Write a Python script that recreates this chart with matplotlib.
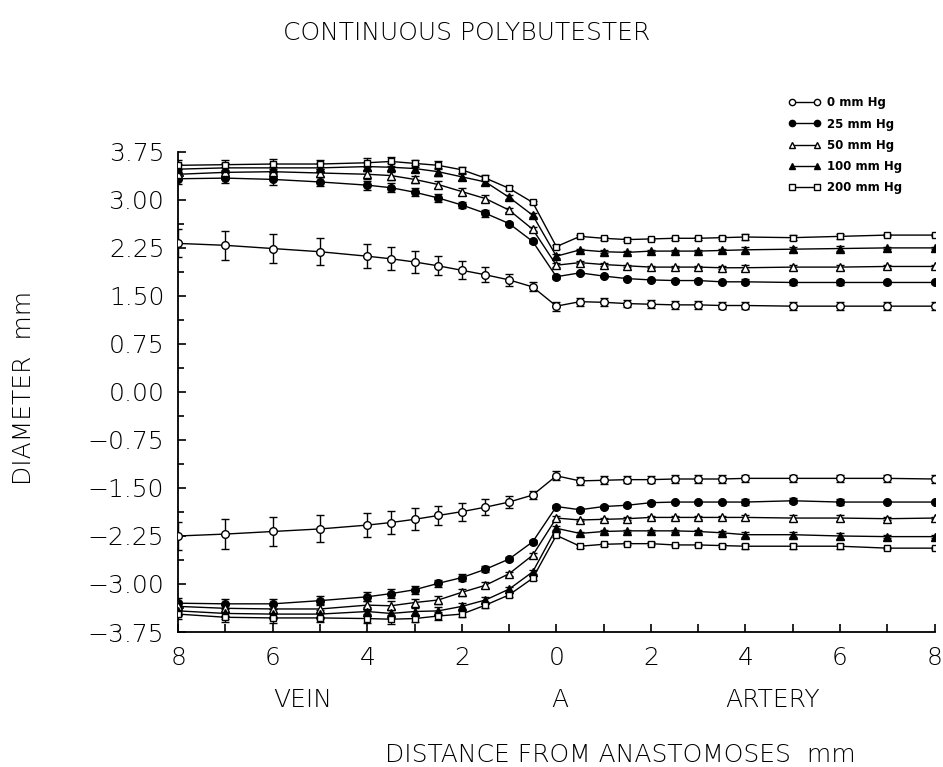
"""
Continuous polybutester: vessel diameter vs. distance from anastomosis
"""

import numpy as np
import matplotlib
matplotlib.use('Agg')
import matplotlib.pyplot as plt
from matplotlib.lines import Line2D

plt.rcParams['font.family'] = ['DejaVu Sans']

# distance: vein side negative (8 .. 0), artery side positive (0.5 .. 8)
DIST = [-8, -7, -6, -5, -4, -3.5, -3, -2.5, -2, -1.5, -1, -0.5, 0,
        0.5, 1, 1.5, 2, 2.5, 3, 3.5, 4, 5, 6, 7, 8]

PRESSURES = ['0 mm Hg', '25 mm Hg', '50 mm Hg', '100 mm Hg', '200 mm Hg']

# upper wall (positive diameter half)
UP_0 = [2.32, 2.29, 2.24, 2.19, 2.12, 2.08, 2.03, 1.97, 1.90, 1.83, 1.75, 1.64, 1.34,
        1.41, 1.40, 1.38, 1.37, 1.36, 1.36, 1.35, 1.35, 1.34, 1.34, 1.34, 1.34]
UP_25 = [3.33, 3.34, 3.32, 3.28, 3.23, 3.19, 3.12, 3.03, 2.92, 2.79, 2.63, 2.35, 1.80,
         1.86, 1.81, 1.77, 1.75, 1.74, 1.74, 1.72, 1.72, 1.71, 1.71, 1.71, 1.71]
UP_50 = [3.40, 3.43, 3.44, 3.42, 3.40, 3.38, 3.32, 3.24, 3.13, 3.02, 2.84, 2.54, 1.98,
         2.02, 1.99, 1.97, 1.95, 1.95, 1.95, 1.94, 1.94, 1.95, 1.95, 1.96, 1.96]
UP_100 = [3.48, 3.50, 3.50, 3.50, 3.52, 3.51, 3.49, 3.44, 3.36, 3.28, 3.04, 2.76, 2.12,
          2.22, 2.19, 2.18, 2.20, 2.20, 2.20, 2.21, 2.22, 2.23, 2.24, 2.25, 2.25]
UP_200 = [3.54, 3.55, 3.56, 3.56, 3.58, 3.60, 3.57, 3.54, 3.47, 3.34, 3.18, 2.96, 2.27,
          2.43, 2.40, 2.38, 2.39, 2.40, 2.40, 2.41, 2.42, 2.41, 2.43, 2.45, 2.45]

# lower wall (negative diameter half)
LO_0 = [-2.25, -2.22, -2.18, -2.14, -2.08, -2.04, -1.99, -1.93, -1.87, -1.80, -1.72, -1.61, -1.31,
        -1.39, -1.38, -1.37, -1.37, -1.36, -1.36, -1.36, -1.35, -1.35, -1.35, -1.35, -1.36]
LO_25 = [-3.30, -3.31, -3.31, -3.26, -3.20, -3.15, -3.09, -2.99, -2.90, -2.77, -2.61, -2.34, -1.79,
         -1.84, -1.79, -1.77, -1.73, -1.72, -1.72, -1.72, -1.72, -1.70, -1.72, -1.72, -1.72]
LO_50 = [-3.35, -3.38, -3.39, -3.39, -3.33, -3.34, -3.29, -3.25, -3.13, -3.02, -2.84, -2.55, -1.97,
         -2.00, -1.99, -1.98, -1.96, -1.96, -1.96, -1.96, -1.96, -1.97, -1.97, -1.98, -1.97]
LO_100 = [-3.42, -3.46, -3.47, -3.47, -3.43, -3.46, -3.43, -3.42, -3.35, -3.25, -3.08, -2.81, -2.13,
          -2.21, -2.18, -2.17, -2.17, -2.17, -2.18, -2.20, -2.23, -2.23, -2.25, -2.26, -2.26]
LO_200 = [-3.47, -3.52, -3.53, -3.53, -3.54, -3.55, -3.54, -3.50, -3.47, -3.33, -3.17, -2.91, -2.24,
          -2.41, -2.38, -2.37, -2.37, -2.39, -2.39, -2.40, -2.41, -2.41, -2.41, -2.44, -2.44]

# standard errors (same for both walls)
ERR_0 = [0.22, 0.23, 0.22, 0.21, 0.19, 0.18, 0.17, 0.15, 0.14, 0.12, 0.09, 0.07, 0.07,
         0.06, 0.06, 0.06, 0.06, 0.06, 0.06, 0.06, 0.06, 0.06, 0.06, 0.06, 0.06]
ERR_HI = [0.08, 0.08, 0.08, 0.07, 0.07, 0.07, 0.06, 0.06, 0.05, 0.05, 0.03, 0.03, 0.03,
          0.02, 0.02, 0.02, 0.02, 0.02, 0.02, 0.02, 0.04, 0.04, 0.04, 0.02, 0.02]

Y_TICKS = [-3.75, -3.00, -2.25, -1.50, -0.75, 0.00, 0.75, 1.50, 2.25, 3.00, 3.75]
X_TICKS = [-8, -7, -6, -5, -4, -3, -2, -1, 0, 1, 2, 3, 4, 5, 6, 7, 8]

STYLES = [('o', 'white'), ('o', 'black'), ('^', 'white'), ('^', 'black'), ('s', 'white')]

upper = [UP_0, UP_25, UP_50, UP_100, UP_200]
lower = [LO_0, LO_25, LO_50, LO_100, LO_200]
errs = [ERR_0, ERR_HI, ERR_HI, ERR_HI, ERR_HI]

fig = plt.figure(figsize=(9.43, 7.67), dpi=100)
ax = fig.add_axes([0.189, 0.176, 0.802, 0.626])

for (mk, fc), up, lo, e in zip(STYLES, upper, lower, errs):
    ms = 5.5 if mk != 's' else 5
    for y in (up, lo):
        ax.errorbar(DIST, y, yerr=e, fmt=mk + '-', color='black', mfc=fc, mec='black',
                    ms=ms, mew=1, lw=1, elinewidth=1, capsize=3, capthick=1, zorder=3)

ax.set_xlim(-8, 8)
ax.set_ylim(-3.75, 3.75)
ax.spines['top'].set_visible(False)
ax.spines['right'].set_visible(False)
ax.spines['left'].set_linewidth(1.3)
ax.spines['bottom'].set_linewidth(1.3)

ax.set_xticks(X_TICKS)
ax.set_xticklabels([str(abs(v)) if v % 2 == 0 else '' for v in X_TICKS])
ax.set_yticks(Y_TICKS)
ax.set_yticklabels([f'{v:.2f}'.replace('-', '\u2212') for v in Y_TICKS])
ax.set_yticks(np.arange(-3.75, 3.76, 0.375), minor=True)
ax.tick_params(axis='both', which='major', direction='in', length=6, width=1.2,
               labelsize=18, pad=10)
ax.tick_params(axis='y', which='minor', direction='in', length=4, width=1.2)
for lab in ax.get_xticklabels() + ax.get_yticklabels():
    lab.set_fontweight('light')

txt = dict(fontsize=18, fontweight='light', ha='center', va='center')
fig.text(0.495, 0.957, 'CONTINUOUS POLYBUTESTER', **txt)
fig.text(303 / 943, 1 - 700 / 767, 'VEIN', **txt)
fig.text(560 / 943, 1 - 700 / 767, 'A', **txt)
fig.text(773 / 943, 1 - 700 / 767, 'ARTERY', **txt)
fig.text(620 / 943, 1 - 755 / 767, 'DISTANCE FROM ANASTOMOSES  mm', **txt)
fig.text(24 / 943, 1 - 388 / 767, 'DIAMETER  mm', rotation=90, **txt)

handles = [Line2D([], [], color='black', lw=1, marker=mk, mfc=fc, mec='black', ms=4.5)
           for mk, fc in STYLES]
ax.legend(handles, PRESSURES, loc='upper left', bbox_to_anchor=(780 / 943, 1 - 88 / 767),
          bbox_transform=fig.transFigure, frameon=False, numpoints=2,
          prop={'size': 8.5, 'weight': 'bold'}, handlelength=2.7, handletextpad=0.6,
          labelspacing=0.7, borderpad=0.2)

plt.savefig('out.png', dpi=100)
plt.close()
